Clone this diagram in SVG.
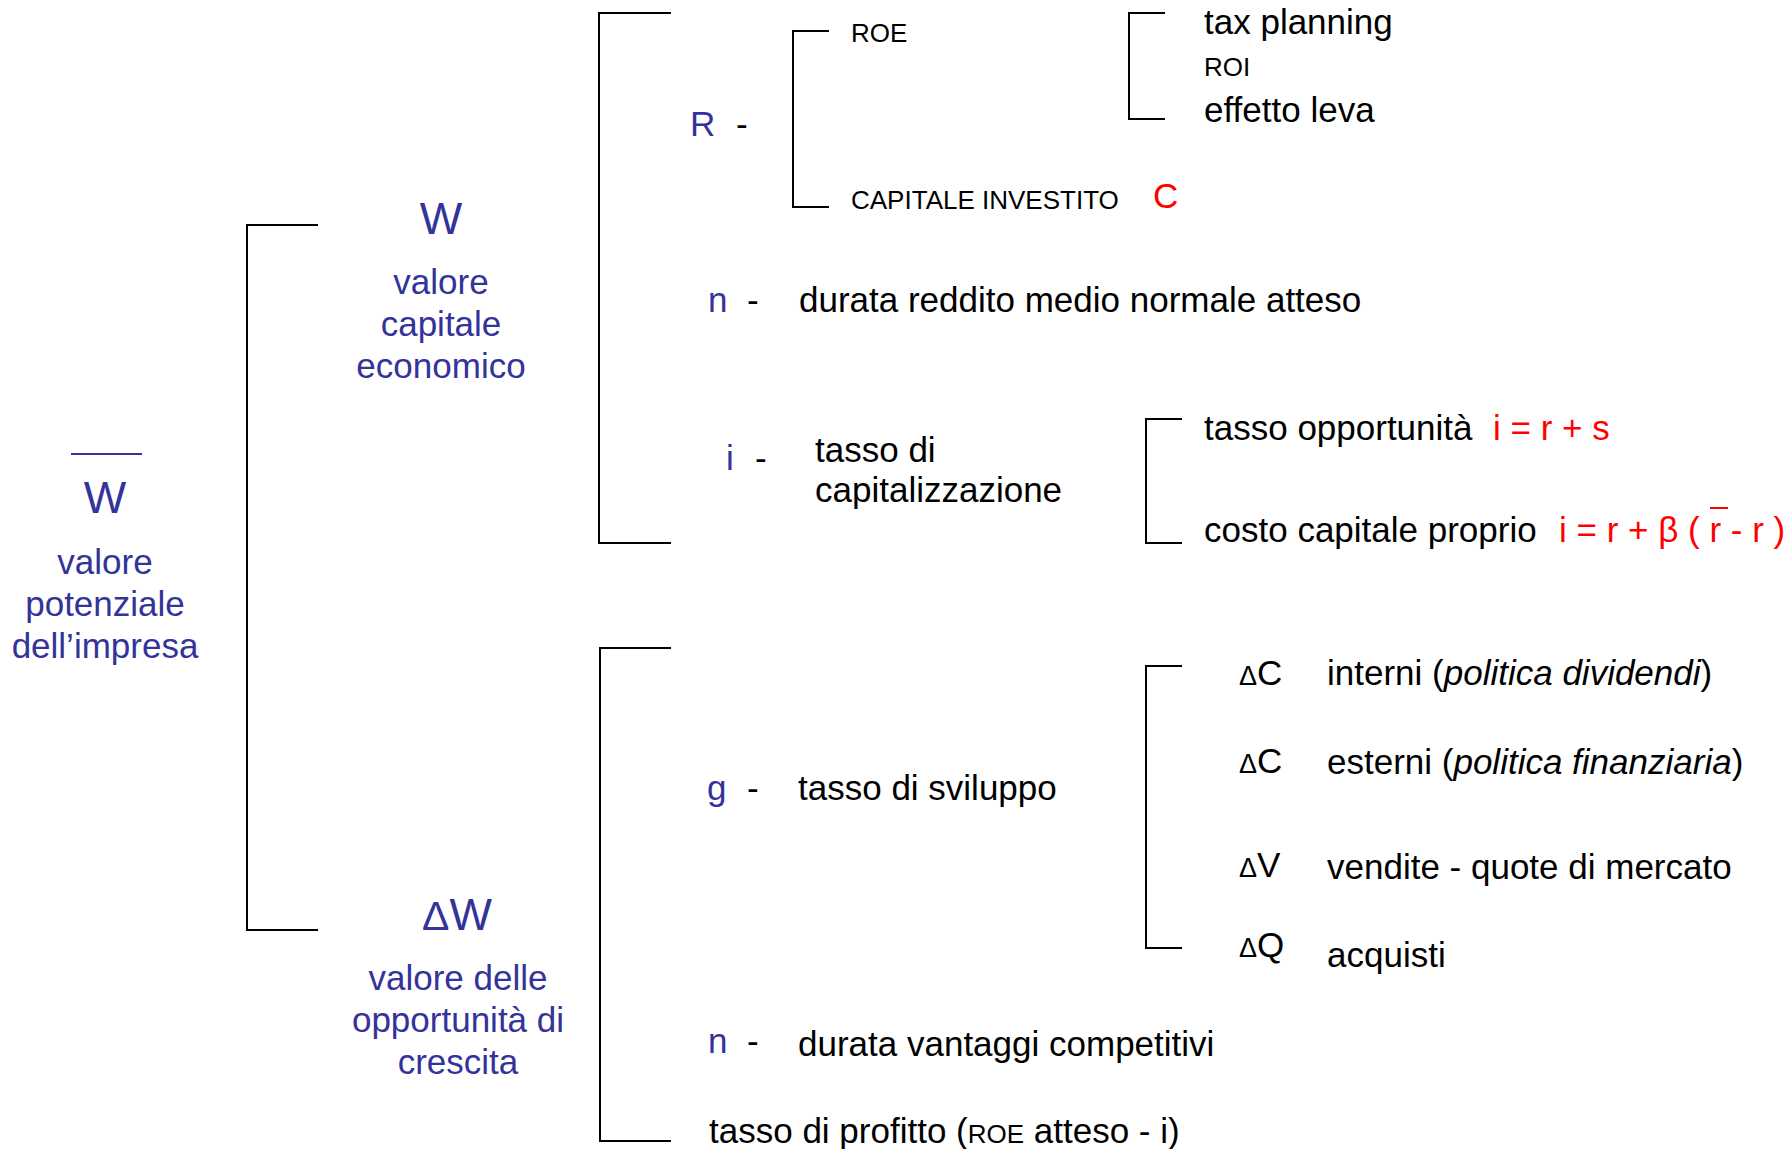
<svg xmlns="http://www.w3.org/2000/svg" width="1792" height="1149" viewBox="0 0 1792 1149">
<style>
text{font-family:"Liberation Sans",Arial,sans-serif;font-size:35px;fill:#000}
.b{fill:#333399}
.r{fill:#FF0000}
.s{font-size:26px}
.big{font-size:45px}
.d{font-size:27px}
.dw{font-size:41px}
.m{text-anchor:middle}
.br{fill:none;stroke:#000;stroke-width:2}
</style>
<rect width="1792" height="1149" fill="#fff"/>
<g id="connectors">
<path class="br" d="M318,225 H247 V930 H318"/>
<path class="br" d="M671,13 H599 V543 H671"/>
<path class="br" d="M829,31 H793 V207 H829"/>
<path class="br" d="M1165,13 H1129 V119 H1165"/>
<path class="br" d="M1182,419 H1146 V543 H1182"/>
<path class="br" d="M671,648 H600 V1141 H671"/>
<path class="br" d="M1182,666 H1146 V948 H1182"/>
</g>
<g id="node-wbar">
<line x1="71" y1="454" x2="142" y2="454" stroke="#333399" stroke-width="2"/>
<text class="b big m" x="105" y="513">W</text>
<text class="b m" x="105" y="574">valore</text>
<text class="b m" x="105" y="616">potenziale</text>
<text class="b m" x="105" y="658">dell’impresa</text>
</g>
<g id="node-w">
<text class="b big m" x="441" y="234">W</text>
<text class="b m" x="441" y="294">valore</text>
<text class="b m" x="441" y="336">capitale</text>
<text class="b m" x="441" y="378">economico</text>
</g>
<g id="node-dw">
<text class="b" x="422" y="930"><tspan class="dw">Δ</tspan><tspan class="big">W</tspan></text>
<text class="b m" x="458" y="990">valore delle</text>
<text class="b m" x="458" y="1032">opportunità di</text>
<text class="b m" x="458" y="1074">crescita</text>
</g>
<g id="node-r">
<text class="b" x="690" y="136">R</text>
<text x="736" y="136">-</text>
</g>
<g id="node-roe">
<text class="s" x="851" y="42">ROE</text>
</g>
<g id="node-capitale">
<text class="s" x="851" y="209">CAPITALE INVESTITO</text>
<text class="r" x="1153" y="208">C</text>
</g>
<g id="node-tax">
<text x="1204" y="34">tax planning</text>
<text class="s" x="1204" y="76">ROI</text>
<text x="1204" y="122">effetto leva</text>
</g>
<g id="node-n1">
<text class="b" x="708" y="312">n</text>
<text x="747" y="312">-</text>
<text x="799" y="312">durata reddito medio normale atteso</text>
</g>
<g id="node-i">
<text class="b" x="726" y="470">i</text>
<text x="755" y="470">-</text>
<text x="815" y="462">tasso di</text>
<text x="815" y="502">capitalizzazione</text>
</g>
<g id="node-opp">
<text x="1204" y="440">tasso opportunità</text>
<text class="r" x="1493" y="440">i = r + s</text>
</g>
<g id="node-costo">
<text x="1204" y="542">costo capitale proprio</text>
<text class="r" x="1559" y="542">i = r + β ( r - r )</text>
<line x1="1710" y1="508" x2="1728" y2="508" stroke="#FF0000" stroke-width="2"/>
</g>
<g id="node-g">
<text class="b" x="707" y="800">g</text>
<text x="747" y="800">-</text>
<text x="798" y="800">tasso di sviluppo</text>
</g>
<g id="node-dc1">
<text x="1239" y="685"><tspan class="d">Δ</tspan>C</text>
<text x="1327" y="685">interni (<tspan font-style="italic">politica dividendi</tspan>)</text>
</g>
<g id="node-dc2">
<text x="1239" y="773"><tspan class="d">Δ</tspan>C</text>
<text x="1327" y="774">esterni (<tspan font-style="italic">politica finanziaria</tspan>)</text>
</g>
<g id="node-dv">
<text x="1239" y="877"><tspan class="d">Δ</tspan>V</text>
<text x="1327" y="879">vendite - quote di mercato</text>
</g>
<g id="node-dq">
<text x="1239" y="957"><tspan class="d">Δ</tspan>Q</text>
<text x="1327" y="967">acquisti</text>
</g>
<g id="node-n2">
<text class="b" x="708" y="1053">n</text>
<text x="747" y="1053">-</text>
<text x="798" y="1056">durata vantaggi competitivi</text>
</g>
<g id="node-profitto">
<text x="709" y="1143">tasso di profitto (<tspan class="s">ROE</tspan> atteso - i)</text>
</g>
</svg>
